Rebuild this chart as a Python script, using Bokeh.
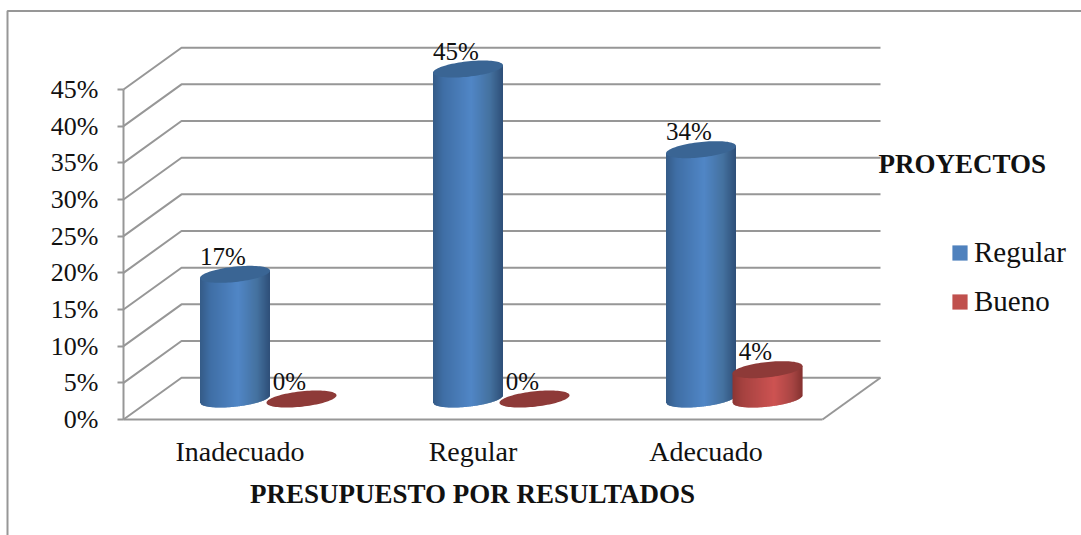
import numpy as np
from bokeh.core.properties import value
from bokeh.embed import file_html
from bokeh.models import (BoxAnnotation, ColumnDataSource, FixedTicker, Label,
                          Legend, LegendItem, NumeralTickFormatter, Range1d)
from bokeh.plotting import figure
from bokeh.resources import INLINE

categories = ["Inadecuado", "Regular", "Adecuado"]
regular = [0.17, 0.45, 0.34]
bueno = [0.0, 0.0, 0.04]
percent_ticks = [0.0, 0.05, 0.10, 0.15, 0.20, 0.25, 0.30, 0.35, 0.40, 0.45]

FONT = "Liberation Serif"
GREY = "#979797"
INK = "#111111"

# Where the origin of the axes sits on the canvas, in pixels
ORIGIN_X, ORIGIN_Y = 123, 419
WIDTH, HEIGHT = 1081, 535
PX_X = 233.0            # pixels per category slot
PX_Y = 330.0 / 0.45     # pixels per unit of share
DEPTH_X, DEPTH_Y = 58.0, 41.8   # oblique offset of the back wall

# Cylinder shape, in pixels
RADIUS = 35.0
RISE = 7.7
SKEW = 0.105
BASE_LIFT = 20.5 / PX_Y
STRIPS = 70


def ramp(stops, u):
    """Interpolate a hex colour along (position, colour) stops."""
    pos = [s[0] for s in stops]
    rgb = [[int(s[1][k:k + 2], 16) for k in (1, 3, 5)] for s in stops]
    c = [int(round(np.interp(u, pos, [r[j] for r in rgb]))) for j in range(3)]
    return "#%02x%02x%02x" % tuple(c)


BLUE_BODY = [(0, "#345a86"), (0.15, "#3f6ea5"), (0.55, "#5086c6"), (0.82, "#44719f"), (1, "#2e4f78")]
RED_BODY = [(0, "#8a3533"), (0.15, "#a54240"), (0.6, "#cd5352"), (0.85, "#a94644"), (1, "#853231")]
BLUE_CAP, RED_CAP = "#3a6594", "#8e3a38"
BLUE_KEY, RED_KEY = "#4f81bd", "#c0504d"

p = figure(width=WIDTH, height=HEIGHT, output_backend="svg", toolbar_location=None,
           x_range=Range1d(-ORIGIN_X / PX_X, (WIDTH - ORIGIN_X) / PX_X),
           y_range=Range1d(-(HEIGHT - ORIGIN_Y) / PX_Y, ORIGIN_Y / PX_Y),
           min_border_left=0, min_border_right=0, min_border_top=0, min_border_bottom=0)
p.outline_line_color = None
p.grid.visible = False

# Chart surround, open past the right and bottom of the page
p.add_layout(BoxAnnotation(left=7, right=WIDTH + 20, top=10.5, bottom=HEIGHT + 20,
                           left_units="canvas", right_units="canvas",
                           top_units="canvas", bottom_units="canvas",
                           fill_color=None, fill_alpha=0, line_color=GREY, line_alpha=1,
                           line_width=2, level="underlay"))

# Back wall and floor: each gridline runs from the front axis into the depth and along the wall
dx, dy = DEPTH_X / PX_X, DEPTH_Y / PX_Y
wall_xs = [[0, dx, len(categories) + dx] for _ in percent_ticks]
wall_ys = [[t, t + dy, t + dy] for t in percent_ticks]
wall_xs.append([len(categories), len(categories) + dx])
wall_ys.append([0, dy])
p.multi_line(wall_xs, wall_ys, line_color=GREY, line_width=2)


def cylinder(slot, share, body, cap, centre_px):
    """Shaded cylinder: thin vertical strips for the side, then a skewed ellipse on top."""
    cx = slot + centre_px
    xs, ys, fills = [], [], []
    if share > 0:
        for i in range(STRIPS):
            u0, u1 = i / STRIPS, min((i + 1.7) / STRIPS, 1.0)
            o0, o1 = (2 * u0 - 1) * RADIUS, (2 * u1 - 1) * RADIUS
            low0 = SKEW * o0 - RISE * np.sqrt(max(1 - (o0 / RADIUS) ** 2, 0))
            low1 = SKEW * o1 - RISE * np.sqrt(max(1 - (o1 / RADIUS) ** 2, 0))
            xs.append([cx + o0 / PX_X, cx + o1 / PX_X, cx + o1 / PX_X, cx + o0 / PX_X])
            ys.append([BASE_LIFT + share + SKEW * o0 / PX_Y, BASE_LIFT + share + SKEW * o1 / PX_Y,
                       BASE_LIFT + low1 / PX_Y, BASE_LIFT + low0 / PX_Y])
            fills.append(ramp(body, (u0 + u1) / 2))
        p.patches(xs, ys, fill_color=fills, line_color=None)
    t = np.linspace(0, 2 * np.pi, 90)
    ox = RADIUS * np.cos(t)
    oy = SKEW * ox + RISE * np.sin(t)
    p.patch(cx + ox / PX_X, BASE_LIFT + share + oy / PX_Y, fill_color=cap, line_color=None)
    return cx


BLUE_CENTRE = 111.5 / PX_X
RED_CENTRE = 178.0 / PX_X
label_x, label_y, label_text = [], [], []
for slot in range(len(categories)):
    for series, body, cap, centre in ((regular, BLUE_BODY, BLUE_CAP, BLUE_CENTRE),
                                      (bueno, RED_BODY, RED_CAP, RED_CENTRE)):
        share = series[slot]
        label_x.append(cylinder(slot, share, body, cap, centre))
        label_y.append(BASE_LIFT + share)
        label_text.append(f"{share:.0%}")

p.text(x="x", y="y", text="t", source=ColumnDataSource(dict(x=label_x, y=label_y, t=label_text)),
       x_offset=-12, y_offset=-18, text_align="center", text_baseline="alphabetic",
       text_font=value(FONT), text_font_size="25px", text_color=INK)

# Axes pinned to the origin inside the full-canvas frame
y_axis = p.yaxis[0]
y_axis.fixed_location = 0
y_axis.ticker = FixedTicker(ticks=percent_ticks)
y_axis.formatter = NumeralTickFormatter(format="0%")
y_axis.bounds = (0, 0.45)
y_axis.axis_line_color = GREY
y_axis.axis_line_width = 2
y_axis.major_tick_line_color = GREY
y_axis.major_tick_line_width = 2
y_axis.major_tick_out = 6
y_axis.major_tick_in = 0
y_axis.minor_tick_line_color = None
y_axis.major_label_standoff = 19
y_axis.major_label_text_font = FONT
y_axis.major_label_text_font_size = "26px"
y_axis.major_label_text_color = INK

x_axis = p.xaxis[0]
x_axis.fixed_location = 0
centres = [i + 0.5 for i in range(len(categories))]
x_axis.ticker = FixedTicker(ticks=centres)
x_axis.major_label_overrides = {c: name for c, name in zip(centres, categories)}
x_axis.bounds = (0, len(categories))
x_axis.axis_line_color = GREY
x_axis.axis_line_width = 2
x_axis.major_tick_line_color = None
x_axis.minor_tick_line_color = None
x_axis.major_tick_out = 0
x_axis.major_tick_in = 0
x_axis.major_label_standoff = 16
x_axis.major_label_text_font = FONT
x_axis.major_label_text_font_size = "28px"
x_axis.major_label_text_color = INK

# Axis title, centred under the three categories
p.add_layout(Label(x=472, y=HEIGHT - 502 + 9, x_units="screen", y_units="screen",
                   text="PRESUPUESTO POR RESULTADOS", text_font=FONT, text_font_size="27px",
                   text_font_style="bold", text_color=INK, text_align="center",
                   text_baseline="alphabetic"))

# Legend with its heading
nowhere = dict(left=[np.nan], right=[np.nan], top=[np.nan], bottom=[np.nan])
key_regular = p.quad(source=ColumnDataSource(nowhere), left="left", right="right", top="top",
                     bottom="bottom", fill_color=BLUE_KEY, line_color=None)
key_bueno = p.quad(source=ColumnDataSource(nowhere), left="left", right="right", top="top",
                   bottom="bottom", fill_color=RED_KEY, line_color=None)
legend = Legend(items=[LegendItem(label="Regular", renderers=[key_regular]),
                       LegendItem(label="Bueno", renderers=[key_bueno])],
                location=(950, HEIGHT - 318), padding=0, margin=0,
                glyph_width=19, glyph_height=19, label_standoff=5, spacing=16,
                background_fill_color=None, border_line_color=None,
                label_text_font=FONT, label_text_font_size="29px", label_text_color=INK)
p.add_layout(legend)

p.add_layout(Label(x=878, y=HEIGHT - 172 + 9, x_units="screen", y_units="screen",
                   text="PROYECTOS", text_font=FONT, text_font_size="27px",
                   text_font_style="bold", text_color=INK, text_baseline="alphabetic"))

open("out.html", "w").write(file_html(p, INLINE))
